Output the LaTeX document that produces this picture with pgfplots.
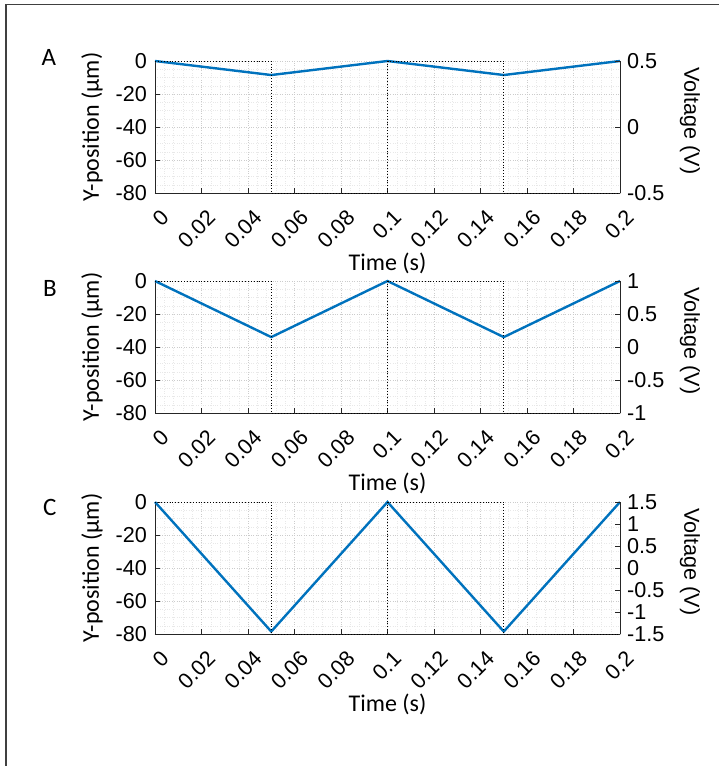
\documentclass[border=0pt]{standalone}
\usepackage{pgfplots}
\pgfplotsset{compat=1.18}
\usepackage{fontspec}
\setmainfont{Liberation Sans}
\newfontfamily\calibri{Carlito}
\definecolor{mblue}{rgb}{0,0.447,0.741}
\definecolor{axgray}{rgb}{0.15,0.15,0.15}
\pgfplotsset{
  common/.style={
    scale only axis, width=465pt, height=132pt,
    xmin=0, xmax=0.2, clip=false,
    tick align=inside, major tick length=5pt, minor tick length=0pt,
    axis line style={axgray, line width=0.8pt, -},
    tick style={axgray, line width=0.8pt},
    /pgf/number format/assume math mode=true,
    ticklabel style={font=\fontsize{21.6}{24}\selectfont, text=black},
  },
  leftax/.style={
    common,
    ymin=-80, ymax=0,
    axis y line*=left, axis x line*=bottom,
    xtick={0,0.02,0.04,0.06,0.08,0.1,0.12,0.14,0.16,0.18,0.2},
    xticklabels={0,0.02,0.04,0.06,0.08,0.1,0.12,0.14,0.16,0.18,0.2},
    ytick={-80,-60,-40,-20,0},
    yticklabels={-80,-60,-40,-20,0},
    minor x tick num=4, minor y tick num=3,
    grid=both,
    major grid style={dotted, black!20},
    minor grid style={dotted, black!9},
    yticklabel style={anchor=east, inner sep=0pt, xshift=-8pt},
    xticklabel style={xshift=10pt, yshift=-21pt, rotate=45, anchor=east, inner sep=0pt},
    xlabel={Time (s)},
    ylabel={Y-position (\textmu m)},
    label style={font=\calibri\fontsize{24}{28}\selectfont},
    xlabel style={at={(axis description cs:0.5,-0.530)}, anchor=center},
    ylabel style={at={(axis description cs:-0.1355,0.5)}, anchor=center},
  },
  rightax/.style={
    common,
    axis y line*=right, axis x line=none,
    yticklabel style={anchor=west, inner sep=0pt, xshift=7pt},
    ylabel={Voltage (V)},
    ylabel style={font=\fontsize{21.6}{24}\selectfont, at={(axis description cs:1.1505,0.545)}, anchor=center, rotate=180},
  },
  sq/.style={black, dotted, line width=0.9pt},
  tri/.style={mblue, line width=2.4pt},
}
\begin{document}
\begin{tikzpicture}[x=1pt,y=1pt]
\useasboundingbox (0,0) rectangle (719,766);
\draw[black!75, line width=1.2pt] (6,0) -- (6,761.5) -- (719,761.5);

% ---------- Panel A ----------
\begin{axis}[leftax, at={(155pt,573pt)}, anchor=south west]
  \addplot[tri] coordinates {(0,0) (0.05,-8.5) (0.1,0) (0.15,-8.5) (0.2,0)};
  \node[font=\calibri\fontsize{25}{28}\selectfont] at (axis description cs:-0.228,1.023) {A};
\end{axis}
\begin{axis}[rightax, at={(155pt,573pt)}, anchor=south west,
  ymin=-0.5, ymax=0.5, ytick={-0.5,0,0.5}, yticklabels={-0.5,0,0.5}]
  \addplot[sq] coordinates {(0,0.5) (0.05,0.5) (0.05,-0.5) (0.1,-0.5) (0.1,0.5) (0.15,0.5) (0.15,-0.5) (0.2,-0.5)};
\end{axis}

% ---------- Panel B ----------
\begin{axis}[leftax, at={(155pt,353pt)}, anchor=south west]
  \addplot[tri] coordinates {(0,0) (0.05,-34) (0.1,0) (0.15,-34) (0.2,0)};
  \node[font=\calibri\fontsize{25}{28}\selectfont] at (axis description cs:-0.226,0.943) {B};
\end{axis}
\begin{axis}[rightax, at={(155pt,353pt)}, anchor=south west,
  ymin=-1, ymax=1, ytick={-1,-0.5,0,0.5,1}, yticklabels={-1,-0.5,0,0.5,1}]
  \addplot[sq] coordinates {(0,1) (0.05,1) (0.05,-1) (0.1,-1) (0.1,1) (0.15,1) (0.15,-1) (0.2,-1)};
\end{axis}

% ---------- Panel C ----------
\begin{axis}[leftax, at={(155pt,132pt)}, anchor=south west]
  \addplot[tri] coordinates {(0,0) (0.05,-78.5) (0.1,0) (0.15,-78.5) (0.2,0)};
  \node[font=\calibri\fontsize{25}{28}\selectfont] at (axis description cs:-0.226,0.955) {C};
\end{axis}
\begin{axis}[rightax, at={(155pt,132pt)}, anchor=south west,
  ymin=-1.5, ymax=1.5, ytick={-1.5,-1,-0.5,0,0.5,1,1.5}, yticklabels={-1.5,-1,-0.5,0,0.5,1,1.5}]
  \addplot[sq] coordinates {(0,1.5) (0.05,1.5) (0.05,-1.5) (0.1,-1.5) (0.1,1.5) (0.15,1.5) (0.15,-1.5) (0.2,-1.5)};
\end{axis}
\end{tikzpicture}
\end{document}
